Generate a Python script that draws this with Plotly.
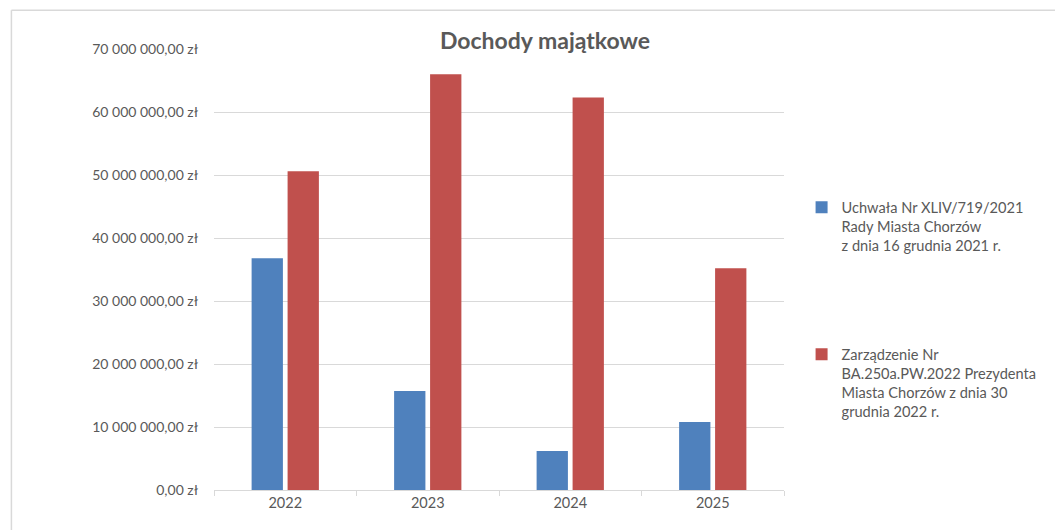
import plotly.graph_objects as go

# Data
years = ["2022", "2023", "2024", "2025"]
uchwala = [36.8e6, 15.7e6, 6.2e6, 10.8e6]
zarzadzenie = [50.6e6, 66.0e6, 62.3e6, 35.2e6]
series_names = [
    "Uchwała Nr XLIV/719/2021<br>Rady Miasta Chorzów<br>z dnia 16 grudnia 2021 r.",
    "Zarządzenie Nr<br>BA.250a.PW.2022 Prezydenta<br>Miasta Chorzów z dnia 30<br>grudnia 2022 r.",
]
tick_vals = [0, 10e6, 20e6, 30e6, 40e6, 50e6, 60e6, 70e6]
tick_text = ["0,00 zł", "10 000 000,00 zł", "20 000 000,00 zł", "30 000 000,00 zł",
             "40 000 000,00 zł", "50 000 000,00 zł", "60 000 000,00 zł", "70 000 000,00 zł"]
title_text = "Dochody majątkowe"

FONT = "Lato"
GRAY = "#595959"
GRID = "#d9d9d9"

OFF = 8  # page body margin offset
W, H = 1063 - OFF, 530 - OFF
L, R = 213.8 - OFF, 784.4 - OFF
T, B = 48.7 - OFF, 490.0 - OFF

fig = go.Figure()
fig.add_trace(go.Bar(x=years, y=uchwala, name=series_names[0], legendgroup="a",
                     marker=dict(color="#4F81BD", line=dict(width=0))))
fig.add_trace(go.Bar(x=years, y=zarzadzenie, name=series_names[1], legendgroup="b",
                     marker=dict(color="#C0504D", line=dict(width=0))))

def px2paper_x(px):
    return (px - OFF - L) / (R - L)

def px2paper_y(py):
    return (B - (py - OFF)) / (B - T)

fig.update_layout(
    width=W, height=H,
    margin=dict(l=L, r=W - R, t=T, b=H - B, pad=0),
    paper_bgcolor="white", plot_bgcolor="white",
    barmode="group", bargap=0.495, bargroupgap=0.13,
    font=dict(family=FONT, size=14, color=GRAY),
    title=dict(text="<b>" + title_text + "</b>", x=(545 - OFF) / W, xanchor="center",
               y=1 - (40.5 - OFF) / H, yanchor="middle",
               font=dict(family=FONT, size=23, color=GRAY)),
    xaxis=dict(showgrid=False, showline=True, linecolor=GRID, linewidth=1,
               ticks="outside", tickson="boundaries", ticklen=5, tickcolor=GRID,
               tickfont=dict(family=FONT, size=14.5, color=GRAY)),
    yaxis=dict(range=[0, 70e6], tickvals=tick_vals, ticktext=tick_text,
               showgrid=True, gridcolor=GRID, gridwidth=1, zeroline=False,
               showline=False, ticks="", ticklabelstandoff=15,
               tickfont=dict(family=FONT, size=14, color=GRAY)),
    legend=dict(x=px2paper_x(802), xanchor="left", y=px2paper_y(191), yanchor="top",
                valign="top", tracegroupgap=87, traceorder="grouped",
                font=dict(family=FONT, size=14.6, color=GRAY),
                bgcolor="rgba(0,0,0,0)"),
    showlegend=True,
    shapes=[
        dict(type="line", xref="paper", yref="paper",
             x0=px2paper_x(11), x1=px2paper_x(1063), y0=px2paper_y(10), y1=px2paper_y(10),
             line=dict(color=GRID, width=1.5)),
        dict(type="line", xref="paper", yref="paper",
             x0=px2paper_x(11), x1=px2paper_x(11), y0=px2paper_y(10), y1=px2paper_y(530),
             line=dict(color=GRID, width=1.5)),
    ],
)

fig.write_html("out.html")
